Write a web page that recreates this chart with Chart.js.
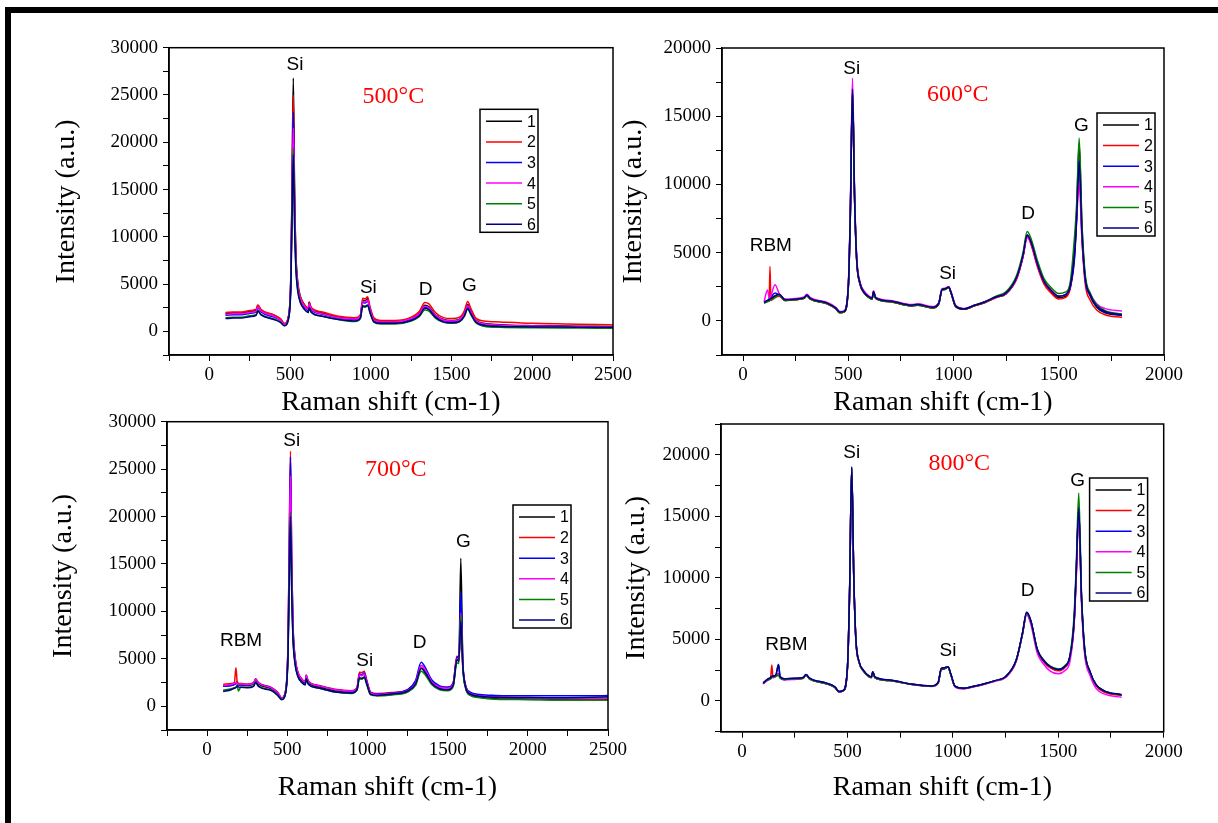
<!DOCTYPE html>
<html>
<head>
<meta charset="utf-8">
<script src="https://cdn.jsdelivr.net/npm/chart.js@4.4.0/dist/chart.umd.min.js"></script>
<style>
  body { margin: 0; background: #fff; }
  #page { position: relative; width: 1218px; height: 823px; overflow: hidden; background: #fff; }
  canvas { position: absolute; }
  .bar { position: absolute; background: #000; }
</style>
</head>
<body>
<div id="page">
  <div class="bar" style="left:5px;top:7px;width:1213px;height:6px"></div>
  <div class="bar" style="left:5px;top:7px;width:6px;height:816px"></div>
  <canvas id="c500" width="640" height="420" style="left:0;top:0"></canvas>
  <canvas id="c700" width="640" height="423" style="left:0;top:400px"></canvas>
  <canvas id="c600" width="618" height="420" style="left:600px;top:0"></canvas>
  <canvas id="c800" width="618" height="423" style="left:600px;top:400px"></canvas>
</div>
<script>
// --- data ---
const seriesLabels = ['1', '2', '3', '4', '5', '6'];
const seriesColors = ['#000000', '#ff0000', '#0000ff', '#ff00ff', '#008000', '#000080'];

// 500°C
const xs500 = [100,150,200,250,290, 300,320,400,440,465, 490,505,512,520,528, 536,548,565,590,612,
  618,630,700,800,900, 935,950,965,980,995, 1020,1060,1150,1250,1300, 1335,1360,1400,1450,1500,
  1550,1580,1600,1620,1650, 1700,1800,2000,2200,2400, 2500];
const s1_500 = [1900,1950,1950,2100,2250, 2750,2250,1700,1300,800, 1550,6200,15500,26800,14500, 8200,5100,3600,2800,2400,
  3100,2500,1950,1500,1350, 1650,3300,3250,3450,2450, 1250,1000,1000,1350,1900, 2750,2600,1750,1250,1150,
  1300,1950,2850,2150,1200, 850,700,600,560,540, 520];
const s2_500 = [2000,2050,2050,2200,2350, 2800,2300,1750,1350,850, 1600,6000,15000,25000,14000, 8000,5000,3600,2800,2450,
  3050,2550,2050,1600,1450, 1750,3500,3450,3650,2600, 1400,1150,1150,1500,2100, 3050,2900,2000,1450,1350,
  1500,2200,3150,2400,1400, 1100,1000,850,780,720, 680];
const s3_500 = [1700,1750,1750,1900,2050, 2500,2050,1500,1150,700, 1450,5600,14000,23200,13000, 7600,4700,3300,2550,2200,
  2800,2300,1800,1400,1250, 1550,3050,3000,3200,2300, 1150,950,950,1300,1800, 2550,2450,1650,1150,1050,
  1200,1850,2650,2000,1100, 750,620,540,500,480, 470];
const s4_500 = [1800,1850,1850,2000,2150, 2600,2150,1600,1200,750, 1500,5800,14200,21500,12500, 7500,4800,3400,2650,2300,
  2900,2400,1850,1450,1300, 1600,3150,3100,3300,2350, 1200,1000,1000,1350,1850, 2650,2500,1700,1200,1100,
  1250,1900,2700,2050,1150, 800,650,560,520,500, 490];
const s5_500 = [1450,1500,1500,1650,1800, 2200,1800,1300,1000,600, 1300,5000,12500,19400,11500, 6800,4300,3000,2300,2000,
  2500,2050,1600,1250,1050, 1350,2600,2550,2700,1950, 950,780,780,1100,1550, 2250,2150,1400,950,850,
  1000,1600,2350,1750,900, 550,430,380,350,340, 330];
const s6_500 = [1350,1400,1400,1550,1700, 2150,1750,1250,950,600, 1300,4900,12000,18700,11000, 6600,4200,3000,2300,2000,
  2500,2050,1600,1250,1100, 1400,2700,2650,2800,2000, 1000,850,850,1150,1650, 2450,2300,1500,1000,900,
  1050,1650,2450,1850,1000, 650,520,470,450,440, 430];

// 600°C
const xs600 = [100,116,124,128,132, 152,172,200,250,290, 303,320,400,440,460, 480,500,510,520,530,
  540,555,575,600,613, 620,630,700,800,830, 900,930,945,960,977, 990,1010,1050,1100,1150,
  1200,1250,1300,1330,1350, 1370,1400,1430,1460,1500, 1530,1555,1575,1585,1597, 1610,1625,1650,1680,1720, 1800];
const s1_600 = [1300,1450,1500,1550,1600, 1800,1900,1500,1550,1650, 1850,1600,1250,900,600, 650,2400,8200,16900,9000,
  4500,2750,2050,1700,1600, 2100,1650,1400,1100,1150, 950,1250,2250,2300,2450, 1950,1050,850,1100,1350,
  1700,2000,3100,4700,6200, 5600,4000,2800,2200,1700, 1800,2500,5200,8000,13000, 7000,3300,1800,1000,600, 400];
const s2_600 = [1400,1450,1500,3980,1500, 1700,1800,1500,1550,1650, 1850,1600,1250,900,600, 650,2400,7800,16800,8800,
  4400,2700,2050,1700,1600, 2100,1650,1400,1100,1150, 950,1250,2250,2300,2450, 1950,1050,850,1100,1350,
  1700,2000,3100,4700,6200, 5500,3900,2700,2100,1600, 1700,2400,4800,7800,12000, 6200,2800,1500,800,450, 250];
const s3_600 = [1350,1500,1600,1700,1750, 2050,1900,1550,1600,1700, 1900,1650,1300,950,650, 700,2500,8000,17000,9000,
  4500,2800,2100,1750,1650, 2150,1700,1450,1150,1200, 1000,1300,2300,2350,2480, 2000,1100,880,1150,1400,
  1750,2050,3200,4800,6300, 5700,4100,2900,2300,1800, 1900,2500,4600,7400,11900, 6400,3100,1850,1050,650, 400];
const s4_600 = [1400,2270,1700,1650,1800, 2640,2000,1600,1650,1750, 1950,1700,1350,1000,680, 730,2600,8500,17800,9400,
  4700,2900,2200,1800,1700, 2200,1750,1500,1200,1250, 1050,1350,2350,2400,2500, 2050,1150,900,1150,1400,
  1750,2050,3150,4700,6100, 5600,4000,2900,2300,1800, 1900,2700,5500,7600,10000, 6000,3200,2000,1250,900, 730];
const s5_600 = [1300,1400,1450,1500,1550, 1700,1900,1500,1550,1650, 1850,1600,1250,900,600, 650,2400,7900,16900,8900,
  4400,2750,2050,1700,1600, 2100,1650,1400,1100,1150, 950,1250,2250,2300,2450, 1950,1050,870,1150,1400,
  1800,2150,3350,5000,6550, 5950,4350,3100,2500,2000, 2100,2900,6200,8600,13400, 7300,3500,2000,1200,750, 500];
const s6_600 = [1350,1500,1550,1600,1650, 1850,1950,1550,1600,1700, 1900,1650,1300,950,650, 700,2500,8000,17000,9000,
  4500,2800,2100,1750,1650, 2150,1700,1450,1150,1200, 1000,1300,2300,2350,2480, 2000,1100,880,1150,1400,
  1750,2050,3200,4800,6300, 5700,4100,2900,2300,1800, 1900,2600,5000,7500,11700, 6500,3200,1900,1100,700, 450];

// 700°C
const xs700 = [100,150,170,180,188, 195,210,250,290,303, 320,400,440,465,490, 505,512,520,528,536,
  548,565,590,612,618, 630,700,800,900,935, 950,965,980,995,1020, 1060,1150,1250,1300,1335,
  1365,1400,1450,1500,1535, 1558,1570,1582,1595,1612, 1640,1700,1800,2000,2200, 2400,2500];
const s1_700 = [2100,2200,2300,2400,2600, 2250,2250,2200,2350,2750, 2350,1850,1350,800,1550, 6000,14000,21000,12500,7500,
  4800,3400,2700,2400,3100, 2500,2000,1600,1450,1800, 3300,3250,3400,2550,1300, 1150,1250,1550,2350,4000,
  3400,2400,1850,1750,2250, 5000,4700,15600,4500,2000, 1200,950,800,750,700, 700,700];
const s2_700 = [2300,2400,2500,4050,2500, 2400,2400,2350,2500,2900, 2500,2000,1500,900,1700, 7000,17000,26900,15000,8500,
  5300,3700,2900,2600,3300, 2700,2200,1800,1650,2000, 3600,3550,3700,2800,1500, 1350,1450,1750,2600,4300,
  3700,2700,2100,2000,2500, 5300,5000,8000,4000,2200, 1400,1150,1000,950,850, 800,850];
const s3_700 = [2100,2200,2300,2450,2350, 2300,2300,2250,2450,2850, 2450,1950,1400,850,1650, 6800,16500,26300,14800,8400,
  5200,3600,2850,2550,3250, 2650,2150,1750,1600,1950, 3400,3350,3500,2700,1450, 1300,1400,1750,2700,4650,
  3950,2800,2150,2000,2500, 5200,5200,12000,4600,2200, 1500,1250,1150,1100,1100, 1100,1130];
const s4_700 = [2200,2300,2400,2500,2400, 2350,2350,2300,2450,2850, 2450,1950,1450,850,1650, 6600,16000,24300,14000,8000,
  5100,3600,2850,2550,3250, 2650,2150,1750,1600,1950, 3300,3250,3400,2600,1400, 1250,1350,1650,2450,4300,
  3700,2600,2000,1900,2400, 5000,4900,9800,4300,2100, 1350,1100,950,900,850, 850,850];
const s5_700 = [1700,1850,1950,2000,2200, 1600,2000,2000,2150,2550, 2150,1700,1200,750,1450, 5800,13500,20500,12000,7200,
  4600,3200,2550,2300,2900, 2400,1900,1500,1350,1700, 2900,2850,3000,2300,1200, 1100,1200,1500,2200,3700,
  3200,2300,1750,1650,2100, 4600,4500,9600,4000,1900, 1150,900,750,700,650, 650,650];
const s6_700 = [1550,1750,1900,2000,2150, 2050,2000,1950,2100,2500, 2100,1650,1150,700,1400, 5600,13000,20000,11800,7000,
  4500,3200,2500,2250,2900, 2350,1900,1500,1400,1750, 3000,2950,3100,2400,1250, 1150,1300,1600,2350,4000,
  3450,2450,1850,1750,2250, 4900,4800,9000,4200,2000, 1300,1050,950,900,900, 950,1000];

// 800°C
const xs800 = [100,120,135,141,147, 160,173,180,200,250, 290,303,320,400,440, 460,480,500,510,520,
  530,540,555,575,600, 613,620,630,700,800, 900,930,945,960,977, 990,1010,1050,1100,1150,
  1200,1250,1300,1330,1350, 1370,1400,1430,1460,1500, 1530,1555,1575,1585,1597, 1610,1625,1650,1680,1720, 1800];
const s1_800 = [1400,1700,1850,1950,1950, 2050,2200,1950,1750,1800, 1850,2100,1800,1400,1100, 740,830,2700,8800,18900,
  9900,4900,3150,2450,2000, 1900,2300,1900,1650,1350, 1200,1450,2550,2600,2750, 2150,1180,1010,1180,1380,
  1630,1950,3250,5450,7150, 6450,4150,3250,2750,2500, 2750,3550,6400,10300,15500, 8400,4100,2350,1250,750, 480];
const s2_800 = [1450,1700,1850,2920,1900, 2000,2100,1950,1750,1800, 1850,2100,1800,1400,1100, 740,830,2700,8800,18900,
  9900,4900,3150,2450,2000, 1900,2300,1900,1650,1350, 1200,1450,2600,2650,2750, 2150,1180,1010,1180,1380,
  1630,1950,3250,5450,7100, 6400,4100,3200,2700,2450, 2700,3500,6300,10200,15400, 8300,4000,2300,1200,700, 450];
const s3_800 = [1400,1750,1900,2000,2050, 2100,2970,2000,1800,1850, 1900,2150,1850,1450,1150, 760,850,2800,9000,19000,
  10000,5000,3200,2500,2050, 1950,2380,1950,1700,1380, 1220,1500,2650,2700,2780, 2200,1200,1030,1200,1400,
  1650,1970,3300,5500,7200, 6500,4200,3300,2800,2550, 2800,3600,6500,10400,15600, 8500,4200,2400,1300,800, 500];
const s4_800 = [1400,1650,1800,1900,1900, 2000,2200,1900,1700,1750, 1850,2100,1800,1400,1100, 730,820,2700,8700,18800,
  9800,4900,3100,2450,2000, 1900,2300,1900,1650,1350, 1180,1450,2600,2650,2750, 2150,1150,980,1150,1350,
  1600,1900,3200,5400,7000, 6200,3900,3000,2450,2200, 2450,3200,6200,9800,15300, 8000,3800,2100,1000,550, 300];
const s5_800 = [1500,1700,1800,1900,1950, 2000,2100,1850,1750,1800, 1850,2100,1800,1400,1100, 740,830,2700,8800,18900,
  9900,4900,3150,2450,2000, 1900,2300,1900,1650,1350, 1200,1450,2600,2650,2750, 2150,1180,1020,1200,1400,
  1650,1970,3300,5450,7100, 6450,4200,3350,2850,2600, 2850,3700,7000,11000,16900, 8800,4300,2400,1300,800, 480];
const s6_800 = [1450,1750,1900,2000,2000, 2100,2950,2000,1800,1850, 1900,2150,1850,1450,1150, 760,850,2800,9000,19000,
  10000,5000,3200,2500,2050, 1950,2380,1950,1700,1380, 1220,1500,2650,2700,2780, 2200,1200,1030,1200,1400,
  1650,1970,3300,5500,7200, 6500,4200,3300,2800,2550, 2800,3600,6500,10500,15700, 8500,4200,2400,1300,800, 500];

// peak labels, placed at data coordinates [text, x, y]
const peaks500 = [['Si', 530, 28200], ['Si', 985, 4600], ['D', 1340, 4350], ['G', 1610, 4850]];
const peaks600 = [['Si', 516, 18500], ['RBM', 132, 5500], ['Si', 972, 3450], ['D', 1354, 7850], ['G', 1607, 14300]];
const peaks700 = [['Si', 528, 28000], ['RBM', 212, 6950], ['Si', 983, 4830], ['D', 1325, 6700], ['G', 1598, 17300]];
const peaks800 = [['Si', 520, 20200], ['RBM', 210, 4550], ['Si', 977, 4080], ['D', 1354, 8950], ['G', 1592, 17900]];

const SERIF = '"Liberation Serif", "Times New Roman", serif';
const SANS = '"Liberation Sans", Arial, sans-serif';

// layout of each panel (canvas pixel coords)
const panels = [
  { id: 'c500', xs: xs500, ys: [s1_500, s2_500, s3_500, s4_500, s5_500, s6_500], xMin: -250, xMax: 2500, yMin: -2500, yMax: 30000,
    area: { left: 169, top: 47.7, right: 613, bottom: 355 }, xPad: 0.2, yPad: 50.2,
    legend: { x: 480, y: 109.3 }, temp: ['500°C', 1140, 24800], peaks: peaks500 },
  { id: 'c600', xs: xs600, ys: [s1_600, s2_600, s3_600, s4_600, s5_600, s6_600], xMin: -100, xMax: 2000, yMin: -2500, yMax: 20000,
    area: { left: 122, top: 48, right: 564, bottom: 355 }, xPad: 0.2, yPad: 16.7,
    legend: { x: 497, y: 113 }, temp: ['600°C', 1020, 16600], peaks: peaks600 },
  { id: 'c700', xs: xs700, ys: [s1_700, s2_700, s3_700, s4_700, s5_700, s6_700], xMin: -250, xMax: 2500, yMin: -2500, yMax: 30000,
    area: { left: 167, top: 21.7, right: 608, bottom: 330 }, xPad: 18.2, yPad: 47.2,
    legend: { x: 513, y: 105 }, temp: ['700°C', 1176, 24900], peaks: peaks700 },
  { id: 'c800', xs: xs800, ys: [s1_800, s2_800, s3_800, s4_800, s5_800, s6_800], xMin: -100, xMax: 2000, yMin: -2500, yMax: 22500,
    area: { left: 121, top: 24, right: 563.7, bottom: 331.7 }, xPad: 18.2, yPad: 20.2,
    legend: { x: 489.6, y: 78 }, temp: ['800°C', 1030, 19300], peaks: peaks800 }
];

// frame around the plot, peak labels, temperature and the legend box
const decorPlugin = {
  id: 'decor',
  afterDraw(chart) {
    const p = chart.options.plugins.decor;
    const { ctx, chartArea: a, scales } = chart;
    ctx.save();
    ctx.strokeStyle = '#000';
    ctx.lineWidth = 1.5;
    ctx.strokeRect(a.left, a.top, a.right - a.left, a.bottom - a.top);

    ctx.textAlign = 'center';
    ctx.textBaseline = 'middle';
    ctx.fillStyle = '#000';
    ctx.font = '19px ' + SANS;
    p.peaks.forEach(([t, x, y]) => {
      ctx.fillText(t, scales.x.getPixelForValue(x), scales.y.getPixelForValue(y));
    });
    ctx.fillStyle = '#ff0000';
    ctx.font = '24px ' + SERIF;
    ctx.fillText(p.temp[0], scales.x.getPixelForValue(p.temp[1]), scales.y.getPixelForValue(p.temp[2]));

    // legend
    const lx = p.legend.x, ly = p.legend.y;
    ctx.fillStyle = '#fff';
    ctx.fillRect(lx, ly, 58, 123);
    ctx.strokeStyle = '#000';
    ctx.lineWidth = 1.5;
    ctx.strokeRect(lx, ly, 58, 123);
    ctx.font = '16px ' + SANS;
    ctx.textAlign = 'left';
    chart.data.datasets.forEach((ds, i) => {
      const yy = ly + 12 + i * 20.6;
      ctx.strokeStyle = ds.borderColor;
      ctx.lineWidth = 1.5;
      ctx.beginPath();
      ctx.moveTo(lx + 6, yy);
      ctx.lineTo(lx + 42, yy);
      ctx.stroke();
      ctx.fillStyle = '#000';
      ctx.fillText(ds.label, lx + 47, yy + 1);
    });
    ctx.restore();
  }
};

function makePanel(p) {
  const el = document.getElementById(p.id);
  const W = el.width, H = el.height;
  return new Chart(el, {
    type: 'line',
    data: {
      datasets: p.ys.map((vals, i) => ({
        label: seriesLabels[i],
        data: p.xs.map((x, j) => ({ x: x, y: vals[j] })),
        borderColor: seriesColors[i],
        borderWidth: 1.5,
        pointRadius: 0,
        cubicInterpolationMode: 'monotone',
        fill: false,
        order: 6 - i // series 6 ends up on top
      }))
    },
    options: {
      responsive: false,
      animation: false,
      events: [],
      layout: { padding: { left: 0, top: p.area.top, right: W - p.area.right, bottom: 0 } },
      scales: {
        x: {
          type: 'linear', position: 'bottom', min: p.xMin, max: p.xMax,
          afterFit: s => { s.height = H - p.area.bottom; },
          ticks: { stepSize: 250, includeBounds: false, autoSkip: false, maxRotation: 0, padding: 3, color: '#000',
                   font: { family: SERIF, size: 19 }, callback: v => (v % 500 === 0 ? String(v) : '') },
          grid: { drawOnChartArea: false, drawTicks: true, tickLength: 6, color: '#000', lineWidth: 1 },
          border: { display: true, color: '#000', width: 1.5 },
          title: { display: true, text: 'Raman shift (cm-1)', color: '#000',
                   font: { family: SERIF, size: 28 }, padding: { top: 0, bottom: p.xPad } }
        },
        y: {
          type: 'linear', position: 'left', min: p.yMin, max: p.yMax,
          afterFit: s => { s.width = p.area.left; },
          ticks: { stepSize: 2500, autoSkip: false, padding: 5, color: '#000',
                   font: { family: SERIF, size: 19 }, callback: v => (v % 5000 === 0 ? String(v) : '') },
          grid: { drawOnChartArea: false, drawTicks: true, tickLength: 6, color: '#000', lineWidth: 1 },
          border: { display: true, color: '#000', width: 1.5 },
          title: { display: true, text: 'Intensity (a.u.)', color: '#000',
                   font: { family: SERIF, size: 28 }, padding: { top: p.yPad, bottom: 0 } }
        }
      },
      plugins: {
        legend: { display: false },
        tooltip: { enabled: false },
        decor: { peaks: p.peaks, temp: p.temp, legend: p.legend }
      }
    },
    plugins: [decorPlugin]
  });
}

panels.forEach(makePanel);
</script>
</body>
</html>
